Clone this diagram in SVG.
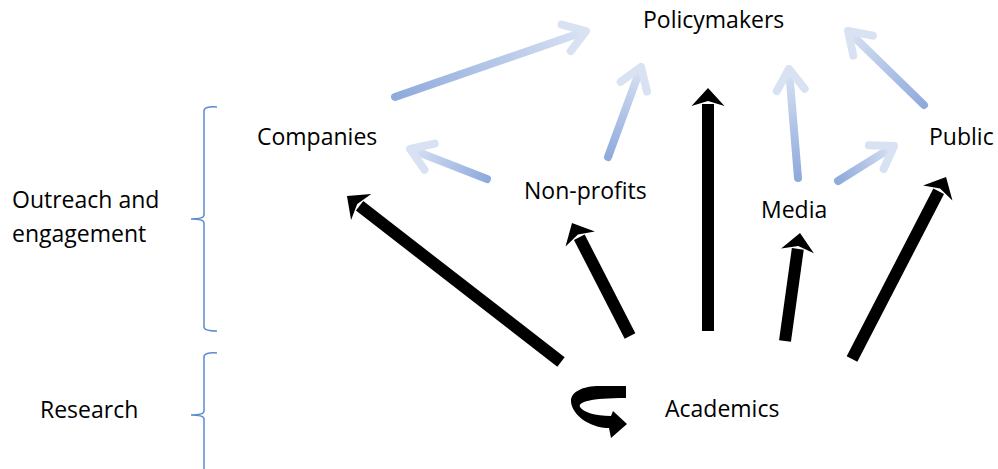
<svg xmlns="http://www.w3.org/2000/svg" width="998" height="469" viewBox="0 0 998 469">
<style>
.t{font-family:"Open Sans","Liberation Sans",sans-serif;font-size:23px;fill:#000}
.blk{stroke:#000;stroke-width:12;fill:none;marker-end:url(#bh)}
.lt{stroke-width:8;fill:none;stroke-linecap:round;marker-end:url(#lh)}
.brace{fill:none;stroke:#5b8ad0;stroke-width:1.5}
</style>
<defs>
<marker id="bh" markerUnits="userSpaceOnUse" viewBox="-20 -20 40 40" markerWidth="40" markerHeight="40" refX="0" refY="0" orient="auto" overflow="visible">
<path d="M16,0 L-2,-16.5 L3,0 L-2,16.5 Z" fill="#000"/>
</marker>
<marker id="lh" markerUnits="userSpaceOnUse" viewBox="-30 -30 60 60" markerWidth="60" markerHeight="60" refX="0" refY="0" orient="auto" overflow="visible">
<path d="M-18,-14 L3,0 L-18,14" fill="none" stroke="#d8e2f3" stroke-width="8" stroke-linecap="round" stroke-linejoin="round"/>
</marker>
<linearGradient id="ga" gradientUnits="userSpaceOnUse" x1="395" y1="97" x2="586" y2="31"><stop offset="0" stop-color="#8faadc"/><stop offset="1" stop-color="#d8e2f3"/></linearGradient>
<linearGradient id="gb" gradientUnits="userSpaceOnUse" x1="608" y1="157" x2="641" y2="67"><stop offset="0" stop-color="#8faadc"/><stop offset="1" stop-color="#d8e2f3"/></linearGradient>
<linearGradient id="gc" gradientUnits="userSpaceOnUse" x1="487" y1="179" x2="410" y2="149"><stop offset="0" stop-color="#8faadc"/><stop offset="1" stop-color="#d8e2f3"/></linearGradient>
<linearGradient id="gd" gradientUnits="userSpaceOnUse" x1="798" y1="178" x2="789" y2="69"><stop offset="0" stop-color="#8faadc"/><stop offset="1" stop-color="#d8e2f3"/></linearGradient>
<linearGradient id="ge" gradientUnits="userSpaceOnUse" x1="838" y1="181" x2="894" y2="146"><stop offset="0" stop-color="#8faadc"/><stop offset="1" stop-color="#d8e2f3"/></linearGradient>
<linearGradient id="gf" gradientUnits="userSpaceOnUse" x1="924" y1="105" x2="848" y2="31"><stop offset="0" stop-color="#8faadc"/><stop offset="1" stop-color="#d8e2f3"/></linearGradient>
</defs>
<rect width="998" height="469" fill="#fff"/>

<g id="connectors">
<line class="lt" stroke="url(#ga)" x1="395" y1="97" x2="583.2" y2="32"/>
<line class="lt" stroke="url(#gb)" x1="608" y1="157" x2="640" y2="69.8"/>
<line class="lt" stroke="url(#gc)" x1="487" y1="179" x2="412.8" y2="150.1"/>
<line class="lt" stroke="url(#gd)" x1="798" y1="178" x2="789.2" y2="72"/>
<line class="lt" stroke="url(#ge)" x1="838" y1="181" x2="891.5" y2="147.6"/>
<line class="lt" stroke="url(#gf)" x1="924" y1="105" x2="850.2" y2="33.1"/>

<line class="blk" x1="561" y1="362" x2="359.6" y2="205.8"/>
<line class="blk" x1="630" y1="336" x2="579.3" y2="237.2"/>
<line class="blk" x1="708" y1="331" x2="708" y2="104"/>
<line class="blk" x1="785" y1="341" x2="797.8" y2="248.9"/>
<line class="blk" x1="852" y1="359" x2="938.7" y2="191.2"/>

<path id="selfloop" d="M626,386 L600,386 C582,386 571,392 571,401 C571,411 584,426 606,428 L609,428 L611,438 L627,424 L613,411 L611,416 C595,416 583,412 580,407 C578,402 590,398 626,398 Z" fill="#000"/>
</g>

<g id="brace-outreach"><path class="brace" d="M217,107 Q204,106 204,111 L204,215 Q204,219 191,219 Q204,219 204,223 L204,327 Q204,331 217,331"/></g>
<g id="brace-research"><path class="brace" d="M217,353 Q204,352 204,357 L204,411 Q204,415 191,415 Q204,415 204,419 L204,469"/></g>

<g id="policymakers"><text class="t" x="643" y="28">Policymakers</text></g>
<g id="companies"><text class="t" x="257" y="145">Companies</text></g>
<g id="nonprofits"><text class="t" x="524" y="199">Non-profits</text></g>
<g id="media"><text class="t" x="761" y="218">Media</text></g>
<g id="public"><text class="t" x="929" y="145">Public</text></g>
<g id="academics"><text class="t" x="665" y="417">Academics</text></g>
<g id="label-outreach"><text class="t" x="12" y="208">Outreach and</text><text class="t" x="12" y="242">engagement</text></g>
<g id="label-research"><text class="t" x="40" y="418">Research</text></g>
</svg>
